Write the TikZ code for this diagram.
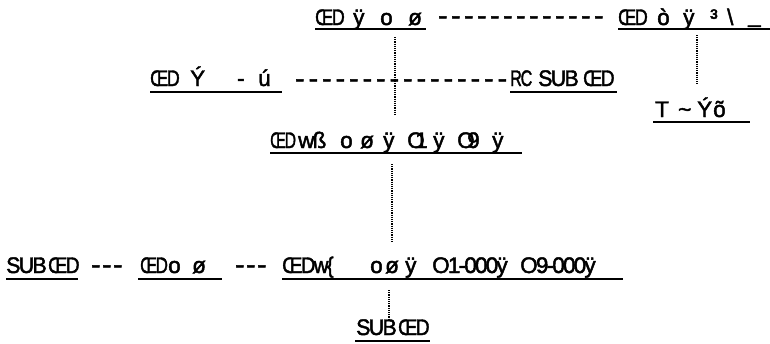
\documentclass[tikz,border=0pt]{standalone}
\usepackage{fontspec}
\setmainfont{Liberation Sans}[FakeBold=2,LetterSpace=-8]
\usepackage{graphicx}
\newcommand\cl[2]{\makebox[#1pt][l]{#2}}
\newcommand\sq[2]{\scalebox{#1}[1]{#2}}
\newcommand\dc[1]{\makebox[#1pt][l]{\scalebox{1.25}[1.1]{-}}}
\tikzset{
  lbl/.style={anchor=base west, inner sep=0pt, font=\fontsize{22.5}{24}\selectfont},
  uline/.style={line width=2.6pt},
  dotline/.style={line width=1.3pt, dash pattern=on 1.1pt off 1.1pt},
}
\begin{document}
\begin{tikzpicture}[x=1pt,y=-1pt]
\useasboundingbox (0,0) rectangle (770,343);
% top row
\node[lbl] (A) at (315,25) {\cl{38}{\sq{0.8}{ŒD}}\cl{27}{ÿ}\cl{28}{o}\cl{18}{ø}};
\draw[uline] (315,29) -- (426,29);
\node[lbl] (Ad) at (438,24) {\dc{13}\dc{13}\dc{13}\dc{13}\dc{13}\dc{13}\dc{13}\dc{13}\dc{13}\dc{13}\dc{13}\dc{13}\dc{13}};
\node[lbl] (B) at (618,25) {\cl{39}{\sq{0.8}{ŒD}}\cl{26}{ò}\cl{27}{ÿ}\cl{17}{³}\cl{21}{\textbackslash}\cl{22}{\raisebox{2.5pt}{\_}}};
\draw[uline] (618,29) -- (770,29);
% second row
\node[lbl] (C) at (150,86) {\cl{40}{\sq{0.8}{ŒD}}\cl{47}{Ý}\cl{21}{-}\cl{24}{ú}};
\draw[uline] (150,92) -- (282,92);
\node[lbl] (Cd) at (295,87) {\dc{13.5}\dc{13.5}\dc{13.5}\dc{13.5}\dc{13.5}\dc{13.5}\dc{13.5}\dc{13.5}\dc{13.5}\dc{13.5}\dc{13.5}\dc{13.5}\dc{13.5}\dc{13.5}\dc{13.5}\dc{13.5}};
\node[lbl] (D) at (510,86) {\cl{28}{\sq{0.72}{RC}}\cl{45}{\sq{0.95}{SUB}}\cl{34}{\sq{0.85}{ŒD}}};
\draw[uline] (510,92) -- (617,92);
\node[lbl] (E) at (653,117) {\hspace{2pt}\cl{23}{T}\cl{19}{\textasciitilde}\cl{16}{Ý}\cl{35}{õ}};
\draw[uline] (653,122) -- (750,122);
% middle
\node[lbl] (F) at (270,148) {\cl{28}{\sq{0.7}{ŒD}}\cl{42}{wß}\cl{20}{o}\cl{23}{ø}\cl{24}{ÿ}\cl{8}{O}\cl{18}{1}\cl{24}{ÿ}\cl{10}{O}\cl{25}{9}\cl{30}{ÿ}};
\draw[uline] (270,153) -- (522,153);
% bottom row
\node[lbl] (H1) at (6,273) {\cl{42}{\sq{0.95}{SUB}}\cl{30}{\sq{0.85}{ŒD}}};
\draw[uline] (6,279) -- (78,279);
\node[lbl] (H2) at (91,273) {\dc{11}\dc{11}\dc{11}};
\node[lbl] (H3) at (138,273) {\hspace{2pt}\cl{28}{\sq{0.75}{ŒD}}\cl{24}{o}\cl{30}{ø}};
\draw[uline] (138,279) -- (222,279);
\node[lbl] (H4) at (235,273) {\dc{11}\dc{11}\dc{11}};
\node[lbl] (H5) at (282,273) {\cl{88}{\sq{0.9}{ŒDw\{}}\cl{15}{o}\cl{20}{ø}\cl{27}{ÿ}\cl{88}{O1-000ÿ}\cl{103}{O9-000ÿ}};
\draw[uline] (282,279) -- (623,279);
\node[lbl] (G) at (356,335) {\cl{42}{\sq{0.95}{SUB}}\cl{30}{\sq{0.85}{ŒD}}};
\draw[uline] (355,341) -- (430,341);
% dotted connectors
\coordinate (a1) at (395,37); \coordinate (a2) at (395,115);
\coordinate (b1) at (697,35); \coordinate (b2) at (697,84);
\coordinate (f1) at (392,164); \coordinate (f2) at (392,242);
\coordinate (h1) at (389,290); \coordinate (h2) at (389,320);
\draw[dotline] (a1) -- (a2);
\draw[dotline] (b1) -- (b2);
\draw[dotline] (f1) -- (f2);
\draw[dotline] (h1) -- (h2);
\end{tikzpicture}
\end{document}
